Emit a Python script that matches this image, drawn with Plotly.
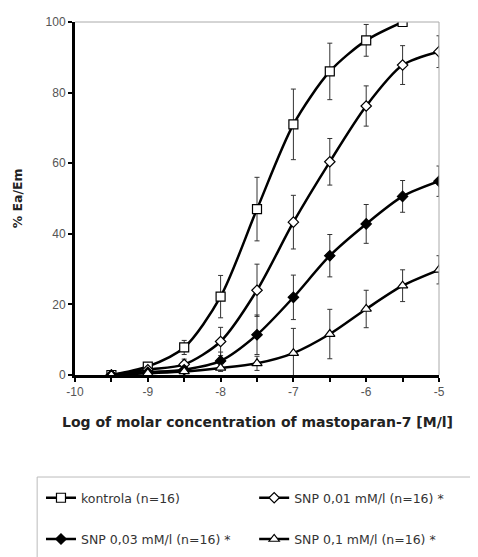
import plotly.graph_objects as go

log_conc = [-9.5, -9.0, -8.5, -8.0, -7.5, -7.0, -6.5, -6.0, -5.5, -5.0]

kontrola = [0, 2.4, 7.8, 22.2, 47, 71, 86, 94.8, 100]
kontrola_err = [0, 1, 2, 6, 9, 10, 8, 4.5, 1]
kontrola_x = log_conc[:9]

snp001 = [0, 1.5, 3.0, 9.5, 24, 43.3, 60.4, 76.2, 87.8, 91.6]
snp001_err = [0, 0.5, 1.5, 4, 7.4, 7.6, 6.6, 5.7, 5.5, 4.5]

snp003 = [0, 0.8, 1.5, 4.0, 11.4, 22, 33.8, 42.8, 50.6, 54.9]
snp003_err = [0, 0.4, 1, 2.5, 5.6, 6.3, 6, 5.5, 4.5, 4.3]

snp01 = [0, 0.5, 1.0, 2.0, 3.3, 6.2, 11.6, 18.7, 25.3, 29.8]
snp01_err = [0, 0.3, 0.5, 1, 2, 7, 7, 5.3, 4.5, 4]

x_tick_vals = [-10, -9, -8, -7, -6, -5]
x_tick_text = ["-10", "-9", "-8", "-7", "-6", "-5"]

names = ["kontrola (n=16)", "SNP 0,01 mM/l (n=16) *",
         "SNP 0,03 mM/l (n=16) *", "SNP 0,1 mM/l (n=16) *"]

series = [
    (kontrola_x, kontrola, kontrola_err, "square", 9, "white", "legend"),
    (log_conc, snp001, snp001_err, "diamond", 8, "white", "legend2"),
    (log_conc, snp003, snp003_err, "diamond", 8, "black", "legend"),
    (log_conc, snp01, snp01_err, "triangle-up", 9, "white", "legend2"),
]

fig = go.Figure()
for i, (name, (xs, ys, es, sym, sz, fill, leg)) in enumerate(zip(names, series)):
    fig.add_trace(go.Scatter(
        x=xs, y=ys, name=name, mode="lines+markers", legend=leg, legendgroup=f"g{i}",
        line=dict(color="black", width=2.5, shape="spline", smoothing=0.8),
        marker=dict(symbol=sym, size=sz, color=fill,
                    line=dict(color="black", width=1.2)),
        error_y=dict(type="data", array=es, color="#333333", thickness=1, width=2.5),
    ))

font = dict(family="Liberation Sans, Arial, sans-serif", size=12, color="#555555")
legfont = dict(family="DejaVu Sans, sans-serif", size=12.5, color="#333333")

fig.update_layout(
    width=478, height=557,
    margin=dict(l=67, r=47, t=14, b=190, autoexpand=False),
    plot_bgcolor="white", paper_bgcolor="white",
    font=font,
    showlegend=True,
    legend=dict(xref="container", yref="container", x=0.069, y=0.147,
                xanchor="left", yanchor="top", orientation="v",
                font=legfont, tracegroupgap=22, itemwidth=30,
                bgcolor="rgba(0,0,0,0)", borderwidth=0),
    legend2=dict(xref="container", yref="container", x=0.515, y=0.147,
                 xanchor="left", yanchor="top", orientation="v",
                 font=legfont, tracegroupgap=22, itemwidth=30,
                 bgcolor="rgba(0,0,0,0)", borderwidth=0),
    xaxis=dict(range=[-10, -5], tickvals=x_tick_vals, ticktext=x_tick_text,
               showgrid=False, zeroline=False,
               showline=True, linecolor="black", linewidth=3, automargin=False,
               ticks="outside", ticklen=4, tickwidth=2, tickcolor="black",
               minor=dict(dtick=0.5, tick0=-10, ticks="outside", ticklen=4, tickwidth=2,
                          tickcolor="black"),
               tickfont=dict(size=12, color="#555555")),
    yaxis=dict(range=[0, 100], dtick=20, showgrid=False, zeroline=False,
               showline=True, linecolor="black", linewidth=3, automargin=False,
               ticks="outside", ticklen=4, tickwidth=2, tickcolor="black",
               tickfont=dict(size=12, color="#555555")),
    annotations=[
        dict(text="<b>Log of molar concentration of mastoparan-7 [M/l]</b>",
             xref="paper", yref="paper", x=0.5, y=-0.133, xanchor="center", yanchor="middle",
             showarrow=False,
             font=dict(family="DejaVu Sans, sans-serif", size=14, color="#222222")),
        dict(text="<b>% Ea/Em</b>", textangle=-90,
             xref="paper", yref="paper", x=-0.157, y=0.5, xanchor="center", yanchor="middle",
             showarrow=False,
             font=dict(family="DejaVu Sans, sans-serif", size=12.5, color="#222222")),
    ],
    shapes=[
        dict(type="line", xref="paper", yref="paper", x0=0, x1=1, y0=1, y1=1,
             line=dict(color="#aaaaaa", width=1)),
        dict(type="line", xref="paper", yref="paper", x0=1, x1=1, y0=0, y1=1,
             line=dict(color="#aaaaaa", width=1)),
        dict(type="line", xref="paper", yref="paper", x0=-0.104, x1=1.2, y0=-0.289, y1=-0.289,
             line=dict(color="#bbbbbb", width=1)),
        dict(type="line", xref="paper", yref="paper", x0=-0.104, x1=-0.104, y0=-0.289, y1=-0.6,
             line=dict(color="#bbbbbb", width=1)),
    ],
)

fig.write_html("out.html")
